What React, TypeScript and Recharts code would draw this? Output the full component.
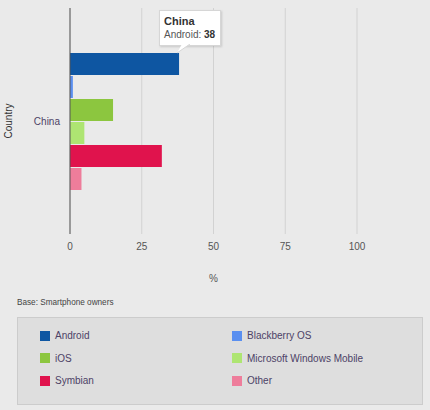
import React from "react";
import { BarChart, Bar, XAxis, YAxis, CartesianGrid, Tooltip } from "recharts";

const countries = ["China"];
const seriesNames = ["Android", "Blackberry OS", "iOS", "Microsoft Windows Mobile", "Symbian", "Other"];
const seriesKeys = ["android", "blackberry", "ios", "windows", "symbian", "other"];
const seriesColors = ["#0e56a2", "#5a8ff0", "#8cc63f", "#aee572", "#e0134d", "#ee7d9b"];
const android = [38];
const blackberry = [1];
const ios = [15];
const windows = [5];
const symbian = [32];
const other = [4];
const xTicks = [0, 25, 50, 75, 100];

const values = [android, blackberry, ios, windows, symbian, other];
const data = countries.map((country, i) => {
  const row: Record<string, string | number> = { country };
  seriesKeys.forEach((k, j) => (row[k] = values[j][i]));
  return row;
});

const FONT = "'Liberation Sans', Arial, sans-serif";

function TipContent({ payload, label }: { payload?: Array<{ value: number; name: string }>; label?: string }) {
  if (!payload?.length) return null;
  const p = payload[0];
  return (
    <div style={{ position: "relative", fontFamily: FONT }}>
      <div
        style={{
          background: "#fff",
          border: "1px solid #d6d6d6",
          boxShadow: "1px 1px 2px rgba(0,0,0,0.15)",
          padding: "4px 6px 4px 4px",
          width: 50,
          fontSize: 10,
          lineHeight: "13px",
          color: "#555",
          whiteSpace: "nowrap",
        }}
      >
        <div style={{ fontWeight: "bold", color: "#333", fontSize: 11 }}>{label}</div>
        <div>
          {p.name}: <b style={{ color: "#333" }}>{p.value}</b>
        </div>
      </div>
      <svg width={14} height={10} style={{ position: "absolute", left: 18, top: 34 }}>
        <polygon points="5,0 13,0 0,9" fill="#fff" />
        <polyline points="13,0 0,9" fill="none" stroke="#d6d6d6" />
      </svg>
    </div>
  );
}

export default function App() {
  return (
    <div
      style={{
        position: "fixed",
        left: 0,
        top: 0,
        width: 430,
        height: 410,
        background: "#eaeaea",
        fontFamily: FONT,
      }}
    >
      <BarChart
        width={430}
        height={290}
        data={data}
        layout="vertical"
        margin={{ top: 8, right: 73, bottom: 0, left: 0 }}
        barCategoryGap={45}
        barGap={1}
        style={{ fontFamily: FONT }}
      >
        <CartesianGrid horizontal={false} stroke="#d2d2d2" />
        <XAxis
          type="number"
          domain={[0, 100]}
          ticks={xTicks}
          height={56}
          axisLine={false}
          tickLine={false}
          tickSize={0}
          tickMargin={9}
          tick={{ fill: "#555", fontSize: 10 }}
          label={{ value: "%", position: "insideBottom", offset: 8, fill: "#555", fontSize: 10 }}
        />
        <YAxis
          type="category"
          dataKey="country"
          width={70}
          axisLine={{ stroke: "#555" }}
          tickLine={false}
          tickSize={0}
          tickMargin={10}
          tick={{ fill: "#4d4266", fontSize: 10 }}
          label={{
            value: "Country",
            angle: -90,
            position: "insideLeft",
            offset: 8,
            fill: "#333",
            fontSize: 10,
            style: { textAnchor: "middle" },
          }}
        />
        <Tooltip
          active
          defaultIndex={0}
          cursor={false}
          position={{ x: 159, y: 10 }}
          allowEscapeViewBox={{ x: true, y: true }}
          content={<TipContent />}
          isAnimationActive={false}
        />
        {seriesKeys.map((k, j) => (
          <Bar key={k} dataKey={k} name={seriesNames[j]} fill={seriesColors[j]} isAnimationActive={false} />
        ))}
      </BarChart>
      <div style={{ position: "absolute", left: 17, top: 298, fontSize: 8.2, color: "#444" }}>
        Base: Smartphone owners
      </div>
      <div
        style={{
          position: "absolute",
          left: 17,
          top: 317,
          width: 406,
          height: 88,
          background: "#dedede",
          border: "1px solid #cccccc",
          boxSizing: "border-box",
        }}
      >
        {seriesNames.map((name, j) => (
          <div
            key={name}
            style={{
              position: "absolute",
              left: 22,
              marginLeft: j % 2 === 0 ? 0 : 192,
              top: 12 + Math.floor(j / 2) * 22.5,
              display: "flex",
              alignItems: "center",
              fontSize: 10,
              color: "#4d4266",
              whiteSpace: "nowrap",
            }}
          >
            <span style={{ width: 10, height: 10, background: seriesColors[j], marginRight: 5, display: "inline-block" }} />
            {name}
          </div>
        ))}
      </div>
    </div>
  );
}
